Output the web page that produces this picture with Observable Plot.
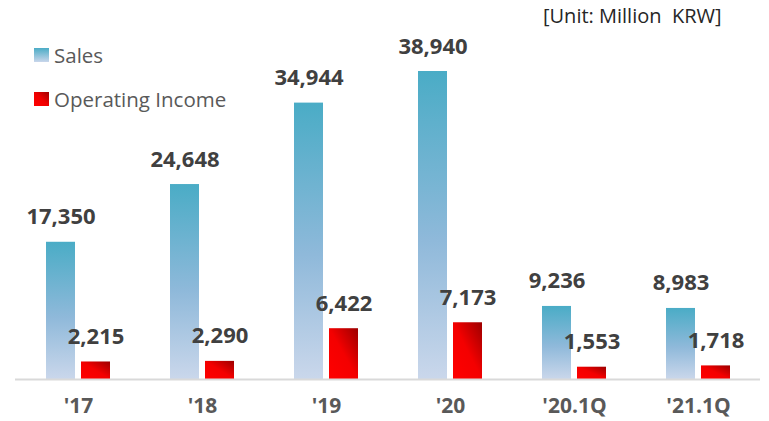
<!DOCTYPE html>
<html>
<head>
<meta charset="utf-8">
<script src="https://cdn.jsdelivr.net/npm/d3@7"></script>
<script src="https://cdn.jsdelivr.net/npm/@observablehq/plot@0.6"></script>
<style>
  body { margin: 0; background: #fff; }
  #wrap { position: relative; width: 769px; height: 421px; font-family: "Open Sans", "Noto Sans", sans-serif; }
  #chart { position: absolute; left: 0; top: 0; }
  .unit { position: absolute; left: 543px; top: 2px; font-size: 20px; color: #262626; white-space: pre; }
  .leg { position: absolute; left: 34px; display: flex; align-items: center; font-size: 20.5px; color: #595959; }
  .sw { width: 15px; height: 14px; margin-right: 5px; }
</style>
</head>
<body>
<div id="wrap">
  <div id="chart"></div>
  <div class="unit">[Unit: Million  KRW]</div>
  <div class="leg" style="top:41px"><div class="sw" style="background:linear-gradient(to bottom,#4bacc6,#c9d6eb)"></div>Sales</div>
  <div class="leg" style="top:85px"><div class="sw" style="background:linear-gradient(to top right,#ff0000 0%,#f00000 50%,#9e0000 100%)"></div>Operating Income</div>
</div>
<script>
const groups = ["'17", "'18", "'19", "'20", "'20.1Q", "'21.1Q"];
const sales = [17350, 24648, 34944, 38940, 9236, 8983];
const operatingIncome = [2215, 2290, 6422, 7173, 1553, 1718];

const salesData = groups.map((g, i) => ({group: g, value: sales[i]}));
const oiData = groups.map((g, i) => ({group: g, value: operatingIncome[i]}));
const fmt = d3.format(",");

const defs = () => {
  const ns = "http://www.w3.org/2000/svg";
  const d = document.createElementNS(ns, "defs");
  d.innerHTML = `
    <linearGradient id="gSales" x1="0" y1="0" x2="0" y2="1">
      <stop offset="0" stop-color="#4aacc6"/>
      <stop offset="0.55" stop-color="#8fb9da"/>
      <stop offset="1" stop-color="#cad7eb"/>
    </linearGradient>
    <linearGradient id="gOI" x1="0" y1="1" x2="1" y2="0">
      <stop offset="0" stop-color="#ff0000"/>
      <stop offset="0.5" stop-color="#f40000"/>
      <stop offset="1" stop-color="#9c0000"/>
    </linearGradient>`;
  return d;
};

const plot = Plot.plot({
  width: 769,
  height: 421,
  marginTop: 71,
  marginBottom: 42,
  marginLeft: 15,
  marginRight: 9,
  style: {fontFamily: "'Open Sans', 'Noto Sans', sans-serif", fontSize: "21px", fontWeight: "bold", color: "#595959", background: "transparent"},
  x: {domain: groups, paddingInner: 0.484, paddingOuter: 0.246, tickSize: 0, tickPadding: 19, label: null},
  y: {domain: [0, 38940], axis: null},
  marks: [
    defs,
    Plot.barY(salesData, {x: "group", y: "value", fill: "url(#gSales)", insetRight: 35}),
    Plot.barY(oiData, {x: "group", y: "value", fill: "url(#gOI)", insetLeft: 35}),
    Plot.ruleY([0], {stroke: "#d9d9d9", strokeWidth: 2}),
    Plot.text(salesData, {x: "group", y: "value", text: d => fmt(d.value), dx: -17.5, dy: -25, fontSize: 22, fontWeight: "bold", fill: "#404040"}),
    Plot.text(oiData, {x: "group", y: "value", text: d => fmt(d.value), dx: 17.5, dy: -25, fontSize: 22, fontWeight: "bold", fill: "#404040"})
  ]
});
document.getElementById("chart").appendChild(plot);
</script>
</body>
</html>
